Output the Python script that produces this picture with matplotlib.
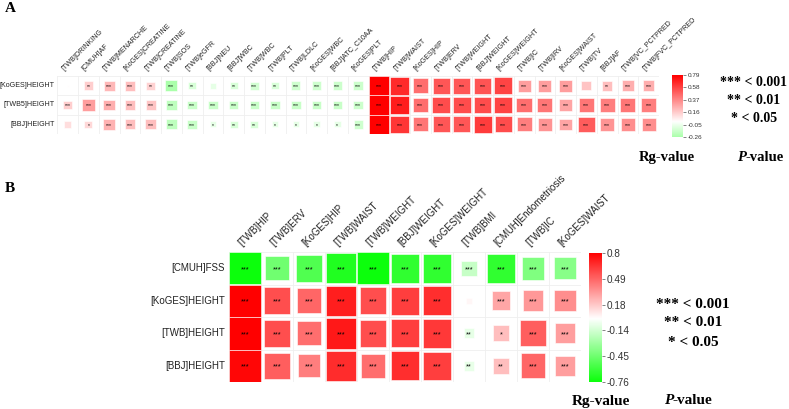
"""Genetic correlation (Rg) heatmaps, panels A and B, corrplot-style squares."""

import matplotlib.pyplot as plt
import matplotlib.patches as mpatches
from matplotlib.colors import LinearSegmentedColormap
import numpy as np

W, H = 789, 409
SANS = 'Liberation Sans'
SERIF = 'Liberation Serif'

# ── Panel A data ─────────────────────────────────────────────────────────────
a_rows = ['[KoGES]HEIGHT', '[TWB5]HEIGHT', '[BBJ]HEIGHT']
a_cols = ['[TWB]DRINKING', '[CMUH]AF', '[TWB]MENARCHE', '[KoGES]CREATINE',
          '[TWB]CREATINE', '[TWB]SOS', '[TWB]eGFR', '[BBJ]NEU', '[BBJ]WBC',
          '[TWB]WBC', '[TWB]PLT', '[TWB]LDLC', '[KoGES]WBC', '[BBJ]ATC_C10AA',
          '[KoGES]PLT', '[TWB]HIP', '[TWB]WAIST', '[KoGES]HIP', '[TWB]ERV',
          '[TWB]WEIGHT', '[BBJ]WEIGHT', '[KoGES]WEIGHT', '[TWB]IC', '[TWB]IRV',
          '[KoGES]WAIST', '[TWB]TV', '[BBJ]AF', '[TWB]VC_PCTPRED',
          '[TWB]FVC_PCTPRED']
a_koges = [0.01, 0.15, 0.22, 0.20, 0.14, -0.26, -0.12, -0.08, -0.12, -0.14,
           -0.12, -0.15, -0.15, -0.16, -0.16, 0.79, 0.66, 0.45, 0.52, 0.52,
           0.53, 0.58, 0.30, 0.30, 0.30, 0.18, 0.20, 0.25, 0.25]
a_twb = [0.15, 0.30, 0.25, 0.20, 0.18, -0.20, -0.17, -0.17, -0.17, -0.17,
         -0.17, -0.17, -0.17, -0.17, -0.16, 0.79, 0.70, 0.45, 0.55, 0.55,
         0.55, 0.58, 0.45, 0.42, 0.28, 0.42, 0.40, 0.42, 0.40]
a_bbj = [0.10, 0.12, 0.24, 0.20, 0.20, -0.20, -0.17, -0.08, -0.12, -0.12,
         -0.08, -0.08, -0.08, -0.08, -0.15, 0.79, 0.62, 0.42, 0.52, 0.52,
         0.60, 0.55, 0.40, 0.33, 0.28, 0.50, 0.33, 0.35, 0.35]
a_stars_koges = ['', '**', '***', '***', '**', '***', '**', '', '**', '***',
                 '**', '***', '***', '***', '***', '***', '***', '***', '***',
                 '***', '***', '***', '***', '***', '***', '', '**', '***', '***']
a_stars_twb = ['***'] * 29
a_stars_bbj = ['', '*', '***', '***', '***', '***', '***', '*', '**', '**',
               '*', '*', '*', '*', '***', '***', '***', '***', '***', '***',
               '***', '***', '***', '***', '***', '***', '***', '***', '***']
a_ticks = ['0.79', '0.58', '0.37', '0.16', '-0.05', '-0.26']

# ── Panel B data ─────────────────────────────────────────────────────────────
b_rows = ['[CMUH]FSS', '[KoGES]HEIGHT', '[TWB]HEIGHT', '[BBJ]HEIGHT']
b_cols = ['[TWB]HIP', '[TWB]ERV', '[KoGES]HIP', '[TWB]WAIST', '[TWB]WEIGHT',
          '[BBJ]WEIGHT', '[KoGES]WEIGHT', '[TWB]BMI', '[CMUH]Endometriosis',
          '[TWB]IC', '[KoGES]WAIST']
b_fss = [-0.76, -0.45, -0.55, -0.70, -0.76, -0.65, -0.65, -0.18, -0.65, -0.40, -0.37]
b_koges = [0.80, 0.55, 0.48, 0.70, 0.55, 0.60, 0.65, 0.03, 0.28, 0.32, 0.35]
b_twb = [0.80, 0.55, 0.45, 0.72, 0.55, 0.60, 0.62, -0.08, 0.20, 0.50, 0.30]
b_bbj = [0.78, 0.50, 0.40, 0.66, 0.45, 0.65, 0.60, -0.07, 0.20, 0.48, 0.30]
b_stars_fss = ['***'] * 11
b_stars_koges = ['***'] * 7 + ['', '***', '***', '***']
b_stars_twb = ['***'] * 7 + ['**', '*', '***', '***']
b_stars_bbj = ['***'] * 7 + ['**', '**', '***', '***']
b_ticks = ['0.8', '0.49', '0.18', '-0.14', '-0.45', '-0.76']

CMAP = LinearSegmentedColormap.from_list('gwr', ['#00FF00', '#FFFFFF', '#FF0000'])


def px_axes(fig, x0, y0, x1, y1):
    return fig.add_axes([x0 / W, 1 - y1 / H, (x1 - x0) / W, (y1 - y0) / H])


def draw_heat(ax, vals, stars, rows, cols, lim, fs_lab, fs_star, dx, gap):
    vals = np.asarray(vals, dtype=float)
    nr, nc = vals.shape
    m = max(abs(lim[0]), abs(lim[1]))
    ax.set_xlim(0, nc)
    ax.set_ylim(nr, 0)
    ax.axis('off')
    for k in range(nc + 1):
        ax.plot([k, k], [0, nr], color='#EFEFEF', lw=0.6, zorder=1)
    for k in range(nr + 1):
        ax.plot([0, nc], [k, k], color='#EFEFEF', lw=0.6, zorder=1)
    for i in range(nr):
        for j in range(nc):
            v = vals[i, j] / m
            s = np.sqrt(abs(v))
            ax.add_patch(mpatches.Rectangle((j + 0.5 - s / 2, i + 0.5 - s / 2), s, s,
                                            facecolor=CMAP((v + 1) / 2),
                                            edgecolor='white', lw=0.4, zorder=2))
            if stars[i][j]:
                ax.text(j + 0.5, i + 0.55, stars[i][j], fontsize=fs_star,
                        ha='center', va='center', family=SANS, zorder=3)
    for i, r in enumerate(rows):
        ax.text(-0.12, i + 0.5, r, fontsize=fs_lab, ha='right', va='center',
                family=SANS, color='#222222')
    for j, c in enumerate(cols):
        ax.text(j + dx, -gap, c, fontsize=fs_lab, rotation=45, ha='left',
                va='bottom', rotation_mode='anchor', family=SANS, color='#222222')


def draw_cbar(fig, x0, y0, x1, y1, lim, ticks, fs):
    ax = px_axes(fig, x0, y0, x1, y1)
    m = max(abs(lim[0]), abs(lim[1]))
    grad = np.linspace(lim[1], lim[0], 256)[:, None] / m
    ax.imshow((grad + 1) / 2, cmap=CMAP, vmin=0, vmax=1, aspect='auto',
              extent=[0, 1, lim[0], lim[1]])
    ax.set_ylim(lim[0], lim[1])
    ax.set_xticks([])
    ax.yaxis.tick_right()
    ax.set_yticks(np.linspace(lim[1], lim[0], len(ticks)))
    ax.set_yticklabels(ticks, fontsize=fs, family=SANS, color='#333333')
    ax.tick_params(axis='y', length=2, width=0.5, pad=1.5, color='#555555')
    for sp in ax.spines.values():
        sp.set_visible(False)


fig = plt.figure(figsize=(W / 100, H / 100), dpi=100)
fig.patch.set_facecolor('white')

# Panel A
axA = px_axes(fig, 57.3, 76, 659, 134)
draw_heat(axA, [a_koges, a_twb, a_bbj], [a_stars_koges, a_stars_twb, a_stars_bbj],
          a_rows, a_cols, (-0.26, 0.79), 5.1, 3.6, 0.38, 0.2)
draw_cbar(fig, 672, 75, 683, 137, (-0.26, 0.79), a_ticks, 4.6)

# Panel B
axB = px_axes(fig, 229, 252, 581, 382)
draw_heat(axB, [b_fss, b_koges, b_twb, b_bbj],
          [b_stars_fss, b_stars_koges, b_stars_twb, b_stars_bbj],
          b_rows, b_cols, (-0.76, 0.80), 7.0, 5.2, 0.45, 0.12)
draw_cbar(fig, 589, 253, 602, 382, (-0.76, 0.80), b_ticks, 7.2)


def ftext(x, y, s, ha='center', **kw):
    fig.text(x / W, 1 - y / H, s, ha=ha, va='center', family=SERIF,
             fontweight='bold', **kw)


def pvalue(xc, y, fs):
    split = xc - 1.25 * fs * 100 / 72
    ftext(split, y, 'P', ha='right', fontsize=fs, style='italic')
    ftext(split, y, '-value', ha='left', fontsize=fs)


ftext(10, 9, 'A', fontsize=11)
ftext(10, 188, 'B', fontsize=11)

for (y, s) in [(82, '*** < 0.001'), (100, '** < 0.01'), (118, '* < 0.05')]:
    ftext(754, y, s, fontsize=10)
ftext(667, 157, 'Rg-value', fontsize=10.5)
pvalue(764, 157, 10.5)

for (y, s) in [(304, '*** < 0.001'), (323, '** < 0.01'), (342, '* < 0.05')]:
    ftext(693, y, s, fontsize=11)
ftext(601, 401, 'Rg-value', fontsize=11)
pvalue(692, 401, 11)

fig.savefig('out.png', dpi=100, facecolor='white')
